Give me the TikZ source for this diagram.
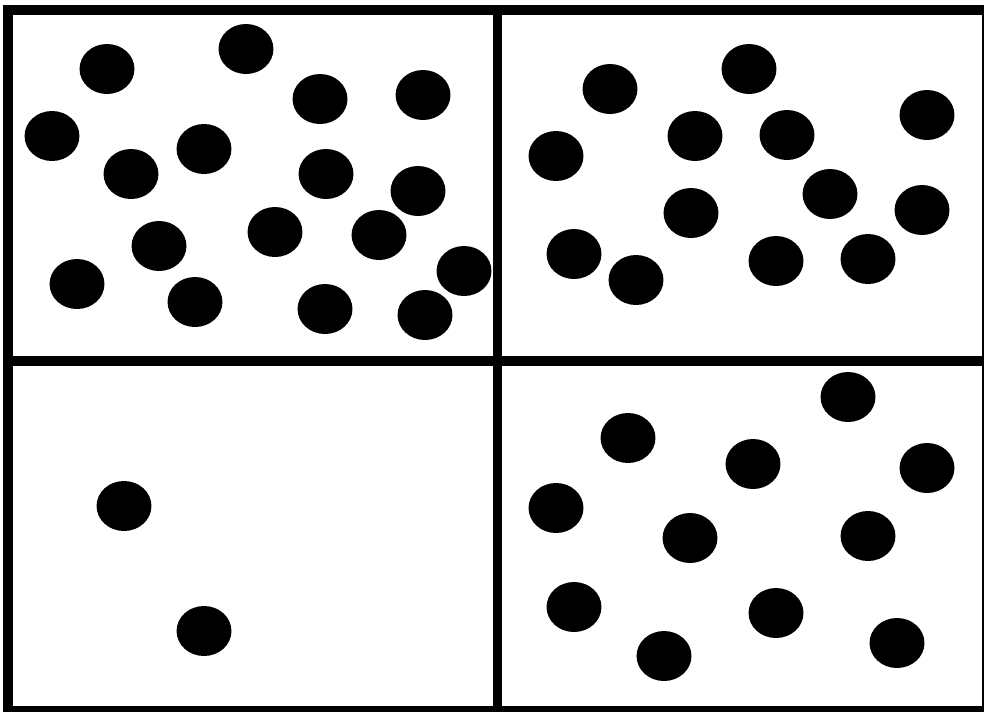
\documentclass[tikz,border=0pt]{standalone}
\begin{document}
\begin{tikzpicture}[x=0.75pt,y=-0.75pt,
  frameline/.style={draw=black,line width=7.5pt},
  divline/.style={draw=black,line width=7pt},
  dot/.style={fill=black}]
\useasboundingbox (0,0) rectangle (984,711);
\clip (0,0) rectangle (984,711);
\fill[white] (0,0) rectangle (984,711);
% dots
\foreach \px/\py in {
  107/69, 246/49, 320/99, 423/95, 52/136, 131/174, 204/149, 326/174, 418/191,
  159/246, 275/232, 379/235, 464/271, 77/284, 195/302, 325/309, 425/315,
  610/89, 749/69, 556/156, 695/136, 787/135, 927/115, 830/194, 922/210,
  691/213, 574/254, 636/280, 776/261, 868/259,
  124/506, 204/631,
  848/397, 628/438, 753/464, 927/468, 556/508, 690/538, 868/536,
  574/607, 776/613, 664/656, 897/643}
  \fill[dot] (\px,\py) ellipse [x radius=20.6pt, y radius=18.75pt];
% frame and dividers
\draw[frameline] (8,10) rectangle (987,711);
\draw[divline] (497.5,10) -- (497.5,711);
\draw[divline] (8,361) -- (987,361);
\end{tikzpicture}
\end{document}
